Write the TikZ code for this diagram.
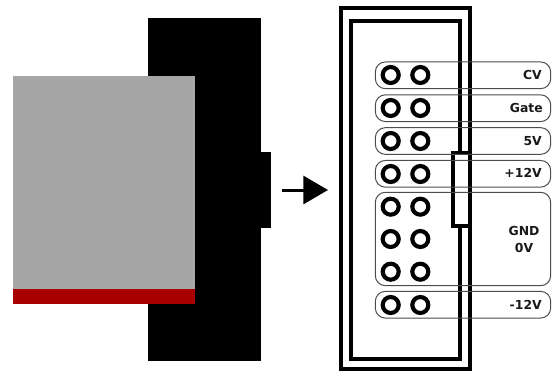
\documentclass[tikz,border=0pt]{standalone}
\usepackage{fontspec}
\setmainfont{DejaVu Sans}
\usetikzlibrary{arrows.meta}
\definecolor{panelgrey}{HTML}{A6A6A6}
\definecolor{stripered}{HTML}{A80000}
\tikzset{
 pill/.style={shape=rectangle,draw=black!70,line width=0.75pt,rounded corners=7.5pt,minimum width=131.5pt,inner sep=0pt,outer sep=0pt},
 hole/.style={shape=circle,draw=black,line width=3.1pt,minimum size=12pt,inner sep=0pt,outer sep=0pt},
 pinfont/.style={inner sep=0pt,font=\bfseries\fontsize{9.3pt}{12pt}\selectfont,text=black!90},
 pinlabel/.style={pinfont,anchor=base east},
 frameline/.style={draw=black,line width=3pt,line cap=butt}
}
\begin{document}
\begin{tikzpicture}[x=0.75pt,y=-0.75pt]
 \useasboundingbox (0,0) rectangle (554,371);
 % module seen from the side
 \fill[black] (148,18) rectangle (261,361);
 \fill[black] (261,151.5) rectangle (271,228);
 \fill[panelgrey] (13,76) rectangle (194.7,289);
 \fill[stripered] (13,289) rectangle (194.7,304);
 % arrow
 \coordinate (arrow start) at (282,190);
 \coordinate (arrow end) at (328,190);
 \draw[line width=2.25pt,-{Triangle[length=18.5pt,width=21pt]}] (arrow start) -- (arrow end);
 % connector frame
 \draw[frameline] (341.3,8) rectangle (470,369);
 \draw[frameline] (351.3,21) rectangle (460,359);
 \filldraw[frameline,fill=white] (452.7,153) rectangle (470,226);
 % pin groups
 \node (pill cv) at (463,75.3) [pill,minimum height=20pt] {};
 \node (pill gate) at (463,108.2) [pill,minimum height=20pt] {};
 \node (pill 5v) at (463,141) [pill,minimum height=20pt] {};
 \node (pill 12v) at (463,173.8) [pill,minimum height=20pt] {};
 \node (pill gnd) at (463,239) [pill,minimum height=70pt] {};
 \node (pill m12v) at (463,304.7) [pill,minimum height=20pt] {};
 % pins
 \node (pin 1) at (390.7,75) [hole] {};
 \node (pin 2) at (420.3,75) [hole] {};
 \node (pin 3) at (390.7,108) [hole] {};
 \node (pin 4) at (420.3,108) [hole] {};
 \node (pin 5) at (390.7,141) [hole] {};
 \node (pin 6) at (420.3,141) [hole] {};
 \node (pin 7) at (390.7,174) [hole] {};
 \node (pin 8) at (420.3,174) [hole] {};
 \node (pin 9) at (390.7,206.7) [hole] {};
 \node (pin 10) at (420.3,206.7) [hole] {};
 \node (pin 11) at (390.7,239) [hole] {};
 \node (pin 12) at (420.3,239) [hole] {};
 \node (pin 13) at (390.7,271.7) [hole] {};
 \node (pin 14) at (420.3,271.7) [hole] {};
 \node (pin 15) at (390.7,305) [hole] {};
 \node (pin 16) at (420.3,305) [hole] {};
 % labels
 \node (lbl cv) at (542,79) [pinlabel] {CV};
 \node (lbl gate) at (543,112.7) [pinlabel] {Gate};
 \node (lbl 5v) at (542,145) [pinlabel] {5V};
 \node (lbl 12v) at (542,177.7) [pinlabel] {+12V};
 \node (lbl gnd) at (524,235.7) [pinfont,anchor=base] {GND};
 \node (lbl 0v) at (524,252) [pinfont,anchor=base] {0V};
 \node (lbl m12v) at (542,309) [pinlabel] {-12V};
\end{tikzpicture}
\end{document}
